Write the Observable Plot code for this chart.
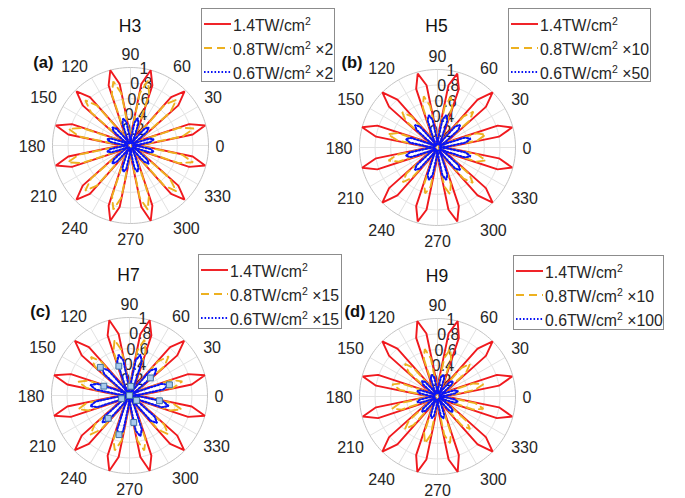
<!DOCTYPE html>
<html><head><meta charset="utf-8">
<script src="https://cdn.jsdelivr.net/npm/d3@7"></script>
<script src="https://cdn.jsdelivr.net/npm/@observablehq/plot@0.6"></script>
<style>
html,body{margin:0;padding:0;background:#fff;}
#wrap{position:relative;width:685px;height:498px;overflow:hidden;font-family:"Liberation Sans",Arial,Helvetica,sans-serif;color:#262626;}
.abs{position:absolute;}
.title{font-size:17.5px;line-height:1;transform:translate(-50%,-50%);white-space:nowrap;color:#111;}
.tag{font-size:16.5px;font-weight:bold;line-height:1;transform:translate(-100%,-50%);white-space:nowrap;color:#111;}
.legend{border:1px solid #8c8c8c;background:#fff;box-sizing:border-box;}
.row{position:absolute;left:0;height:24px;display:flex;align-items:center;font-size:15.8px;white-space:nowrap;color:#262626;}
.row svg{display:block;margin-left:2px;margin-right:2px;}
.sup{font-size:10.5px;position:relative;top:-6px;}
</style></head>
<body><div id="wrap"></div>
<script>
// ---------- data ----------
const sampleAngles = [0,5,10,15,20,25,30,35,40,45,50,55,60,65,70,75,80,85,90,95,100,105,110,115,
  120,125,130,135,140,145,150,155,160,165,170,175,180,185,190,195,200,205,210,215,220,225,230,235,
  240,245,250,255,260,265,270,275,280,285,290,295,300,305,310,315,320,325,330,335,340,345,350,355];
const thetaTicks = [0,30,60,90,120,150,180,210,240,270,300,330];
const rTicks = [0.2,0.4,0.6,0.8,1];
const rTickLabels = ["0.2","0.4","0.6","0.8","1"];
const panelTitles = ["H3","H5","H7","H9"];
const panelTags = ["(a)","(b)","(c)","(d)"];
const seriesNames = ["1.4TW/cm","0.8TW/cm","0.6TW/cm"];
const seriesFactors = [["","×2","×2"],["","×10","×50"],["","×15","×15"],["","×10","×100"]];

const h3Red = [
0.02,0.21,0.81,0.99,0.80,0.20, 0.02,0.20,0.80,0.98,0.81,0.21, 0.02,0.22,0.82,1.00,0.80,0.20,
0.02,0.20,0.80,1.00,0.82,0.22, 0.02,0.21,0.81,0.98,0.80,0.20, 0.02,0.20,0.80,0.99,0.81,0.21,
0.02,0.21,0.81,0.99,0.80,0.20, 0.02,0.20,0.80,0.98,0.81,0.21, 0.02,0.22,0.82,1.00,0.80,0.20,
0.02,0.20,0.80,1.00,0.82,0.22, 0.02,0.21,0.81,0.98,0.80,0.20, 0.02,0.20,0.80,0.99,0.81,0.21];
const h3Orange = [
0.02,0.17,0.68,0.84,0.67,0.16, 0.02,0.16,0.67,0.83,0.68,0.17, 0.02,0.18,0.70,0.86,0.68,0.17,
0.02,0.17,0.68,0.85,0.70,0.18, 0.02,0.17,0.67,0.82,0.66,0.16, 0.02,0.16,0.66,0.82,0.67,0.17,
0.02,0.17,0.67,0.83,0.66,0.16, 0.02,0.16,0.66,0.82,0.67,0.17, 0.02,0.18,0.69,0.85,0.68,0.17,
0.02,0.17,0.68,0.85,0.69,0.18, 0.02,0.17,0.67,0.83,0.66,0.16, 0.02,0.16,0.66,0.83,0.67,0.17];
const h3Blue = [
0.03,0.10,0.26,0.31,0.26,0.10, 0.03,0.10,0.28,0.33,0.28,0.10, 0.03,0.11,0.30,0.36,0.30,0.11,
0.03,0.11,0.30,0.36,0.30,0.11, 0.03,0.10,0.28,0.33,0.28,0.10, 0.03,0.10,0.26,0.31,0.26,0.10,
0.03,0.10,0.26,0.31,0.26,0.10, 0.03,0.10,0.28,0.33,0.27,0.10, 0.03,0.11,0.30,0.35,0.30,0.11,
0.03,0.11,0.29,0.35,0.30,0.11, 0.03,0.10,0.27,0.33,0.28,0.10, 0.03,0.10,0.26,0.31,0.26,0.10];

const h5Red = [
0.02,0.20,0.80,0.99,0.82,0.22, 0.02,0.21,0.81,1.00,0.80,0.20, 0.02,0.20,0.80,0.98,0.81,0.21,
0.02,0.21,0.81,0.98,0.80,0.20, 0.02,0.20,0.80,1.00,0.81,0.21, 0.02,0.22,0.82,1.00,0.80,0.20,
0.02,0.20,0.80,1.00,0.82,0.22, 0.02,0.21,0.81,1.00,0.80,0.20, 0.02,0.20,0.80,0.98,0.81,0.21,
0.02,0.21,0.81,0.98,0.80,0.20, 0.02,0.20,0.80,1.00,0.81,0.21, 0.02,0.22,0.82,0.99,0.80,0.20];
const h5Orange = [
0.02,0.14,0.52,0.64,0.53,0.15, 0.02,0.15,0.53,0.65,0.52,0.14, 0.02,0.15,0.55,0.67,0.54,0.15,
0.02,0.15,0.54,0.68,0.55,0.15, 0.02,0.14,0.52,0.64,0.53,0.15, 0.02,0.15,0.54,0.66,0.52,0.14,
0.02,0.14,0.52,0.65,0.53,0.15, 0.02,0.15,0.52,0.63,0.51,0.14, 0.02,0.14,0.50,0.61,0.51,0.14,
0.02,0.14,0.51,0.62,0.50,0.14, 0.02,0.14,0.52,0.64,0.53,0.15, 0.02,0.15,0.53,0.64,0.52,0.14];
const h5Blue = [
0.03,0.12,0.37,0.44,0.37,0.12, 0.03,0.12,0.35,0.41,0.35,0.12, 0.03,0.12,0.37,0.43,0.36,0.12,
0.03,0.12,0.36,0.43,0.37,0.12, 0.03,0.12,0.35,0.41,0.35,0.12, 0.03,0.12,0.36,0.42,0.36,0.12,
0.03,0.12,0.36,0.42,0.36,0.12, 0.03,0.12,0.35,0.41,0.35,0.12, 0.03,0.12,0.37,0.43,0.36,0.12,
0.03,0.12,0.36,0.43,0.37,0.12, 0.03,0.12,0.35,0.41,0.35,0.12, 0.03,0.12,0.37,0.44,0.37,0.12];

const h7Red = [
0.02,0.21,0.81,1.00,0.80,0.20, 0.02,0.20,0.80,0.99,0.81,0.21, 0.02,0.22,0.82,1.00,0.80,0.20,
0.02,0.20,0.80,1.00,0.82,0.22, 0.02,0.21,0.81,0.99,0.80,0.20, 0.02,0.20,0.80,1.00,0.81,0.21,
0.02,0.21,0.81,1.00,0.80,0.20, 0.02,0.20,0.80,0.99,0.81,0.21, 0.02,0.22,0.82,1.00,0.80,0.20,
0.02,0.20,0.80,1.00,0.82,0.22, 0.02,0.21,0.81,0.99,0.80,0.20, 0.02,0.20,0.80,1.00,0.81,0.21];
const h7Orange = [
0.02,0.15,0.57,0.70,0.58,0.16, 0.02,0.16,0.58,0.71,0.57,0.15, 0.02,0.16,0.60,0.74,0.59,0.16,
0.02,0.16,0.59,0.74,0.60,0.16, 0.02,0.15,0.57,0.70,0.58,0.16, 0.02,0.15,0.56,0.68,0.56,0.15,
0.02,0.15,0.56,0.68,0.56,0.15, 0.02,0.16,0.58,0.71,0.57,0.15, 0.02,0.16,0.60,0.73,0.59,0.16,
0.02,0.16,0.59,0.73,0.60,0.16, 0.02,0.15,0.57,0.70,0.58,0.16, 0.02,0.15,0.56,0.69,0.56,0.15];
const h7Blue = [
0.03,0.13,0.44,0.52,0.44,0.13, 0.03,0.12,0.42,0.49,0.42,0.12, 0.03,0.14,0.46,0.54,0.46,0.13,
0.03,0.13,0.46,0.54,0.46,0.14, 0.03,0.12,0.42,0.50,0.42,0.12, 0.03,0.13,0.44,0.52,0.44,0.13,
0.03,0.13,0.44,0.52,0.44,0.13, 0.03,0.12,0.42,0.49,0.42,0.12, 0.03,0.14,0.46,0.54,0.46,0.13,
0.03,0.13,0.46,0.54,0.46,0.14, 0.03,0.12,0.42,0.50,0.42,0.12, 0.03,0.13,0.44,0.52,0.44,0.13];
const h7MarkerTheta = [136,110,40,15,160,82,202,325,350,227,279,255,0];
const h7MarkerR =     [0.52,0.40,0.35,0.53,0.35,0.12,0.11,0.11,0.39,0.40,0.35,0.52,0];

const h9Red = [
0.02,0.20,0.80,0.99,0.81,0.21, 0.02,0.21,0.81,1.00,0.80,0.20, 0.02,0.20,0.80,1.00,0.82,0.22,
0.02,0.22,0.82,1.00,0.80,0.20, 0.02,0.20,0.80,1.00,0.81,0.21, 0.02,0.21,0.81,0.99,0.80,0.20,
0.02,0.20,0.80,0.99,0.81,0.21, 0.02,0.21,0.81,1.00,0.80,0.20, 0.02,0.20,0.80,1.00,0.82,0.22,
0.02,0.22,0.82,1.00,0.80,0.20, 0.02,0.20,0.80,1.00,0.81,0.21, 0.02,0.21,0.81,0.99,0.80,0.20];
const h9Orange = [
0.02,0.13,0.49,0.61,0.49,0.13, 0.02,0.13,0.48,0.59,0.48,0.13, 0.02,0.14,0.51,0.63,0.50,0.13,
0.02,0.13,0.50,0.63,0.51,0.14, 0.02,0.13,0.48,0.59,0.48,0.13, 0.02,0.13,0.49,0.60,0.49,0.13,
0.02,0.13,0.49,0.60,0.49,0.13, 0.02,0.13,0.48,0.59,0.48,0.13, 0.02,0.14,0.50,0.62,0.50,0.13,
0.02,0.13,0.50,0.62,0.50,0.14, 0.02,0.13,0.48,0.59,0.48,0.13, 0.02,0.13,0.49,0.61,0.49,0.13];
const h9Blue = [
0.03,0.10,0.23,0.27,0.23,0.10, 0.03,0.10,0.24,0.28,0.24,0.10, 0.03,0.11,0.25,0.29,0.25,0.11,
0.03,0.11,0.25,0.29,0.25,0.11, 0.03,0.10,0.24,0.28,0.24,0.10, 0.03,0.10,0.23,0.27,0.23,0.10,
0.03,0.10,0.23,0.27,0.23,0.10, 0.03,0.10,0.24,0.28,0.24,0.10, 0.03,0.11,0.25,0.29,0.25,0.11,
0.03,0.11,0.25,0.29,0.25,0.11, 0.03,0.10,0.24,0.28,0.24,0.10, 0.03,0.10,0.23,0.27,0.23,0.10];

const panelSeries = [
  [h3Red, h3Orange, h3Blue],
  [h5Red, h5Orange, h5Blue],
  [h7Red, h7Orange, h7Blue],
  [h9Red, h9Orange, h9Blue]
];

// ---------- layout & style ----------
const layout = [
  {cx:130, cy:145, titleY:27, tagRight:53.5, tagY:62, legend:{left:201, top:8, width:134, height:74}},
  {cx:436.5, cy:146.5, titleY:27, tagRight:362.5, tagY:62, legend:{left:508, top:8, width:143, height:74}},
  {cx:128.5, cy:395, titleY:276, tagRight:50.5, tagY:311, legend:{left:198, top:254, width:144, height:75}},
  {cx:437, cy:396, titleY:276.5, tagRight:365.5, tagY:311, legend:{left:513, top:255, width:151, height:75}}
];
const R = 78, S = 300, H = S / 2 / R;
const seriesStyle = [
  {stroke:"#f0191e", strokeWidth:1.9, dash:null},
  {stroke:"#edb120", strokeWidth:1.9, dash:"8,5"},
  {stroke:"#0a14f5", strokeWidth:2.1, dash:"1.6,1.9"}
];
const font = '"Liberation Sans", Arial, Helvetica, sans-serif';
const rad = Math.PI / 180;
const gridColor = "#e2e2e2", outerColor = "#c4c4c4", labelColor = "#262626";

function polarPoints(thetas, rs) {
  return thetas.map((t, i) => ({x: rs[i] * Math.cos(t * rad), y: rs[i] * Math.sin(t * rad)}));
}
function closedLoop(vals) {
  const pts = polarPoints(sampleAngles, vals);
  pts.push(pts[0]);
  return pts;
}

const wrap = document.getElementById("wrap");
const circleSteps = d3.range(0, 361, 2);

panelSeries.forEach((series, pi) => {
  const L = layout[pi];
  const innerCircles = rTicks.filter(r => r < 1).flatMap(r => circleSteps.map(a => ({r, x: r * Math.cos(a * rad), y: r * Math.sin(a * rad)})));
  const outerCircle = circleSteps.map(a => ({x: Math.cos(a * rad), y: Math.sin(a * rad)}));
  const spokes = thetaTicks.map(t => ({x2: Math.cos(t * rad), y2: Math.sin(t * rad)}));
  const marks = [
    Plot.line(innerCircles, {x: "x", y: "y", z: "r", stroke: gridColor, strokeWidth: 1}),
    Plot.link(spokes, {x1: () => 0, y1: () => 0, x2: "x2", y2: "y2", stroke: gridColor, strokeWidth: 1}),
    Plot.line(outerCircle, {x: "x", y: "y", stroke: outerColor, strokeWidth: 1}),
    Plot.text(rTicks.map((r, i) => ({r, label: rTickLabels[i]})), {
      x: d => d.r * Math.cos(80 * rad), y: d => d.r * Math.sin(80 * rad), text: "label",
      fontSize: 16, fontFamily: font, fill: labelColor, textAnchor: "middle", lineAnchor: "middle"
    })
  ];
  thetaTicks.forEach(t => {
    const c = Math.cos(t * rad), s = Math.sin(t * rad);
    const ta = c > 0.1 ? "start" : c < -0.1 ? "end" : "middle";
    const la = s > 0.1 ? "bottom" : s < -0.1 ? "top" : "middle";
    marks.push(Plot.text([t], {
      x: d => 1.09 * Math.cos(d * rad), y: d => 1.09 * Math.sin(d * rad), text: d => String(d),
      fontSize: 16, fontFamily: font, fill: labelColor, textAnchor: ta, lineAnchor: la,
      dy: la === "top" ? 3 : la === "middle" ? 1 : 0
    }));
  });
  series.forEach((vals, si) => {
    const st = seriesStyle[si];
    const o = {x: "x", y: "y", stroke: st.stroke, strokeWidth: st.strokeWidth, curve: "linear", strokeLinejoin: "miter"};
    if (st.dash) o.strokeDasharray = st.dash;
    marks.push(Plot.line(closedLoop(vals), o));
  });
  if (pi === 2) {
    marks.push(Plot.dot(polarPoints(h7MarkerTheta, h7MarkerR), {
      x: "x", y: "y", symbol: "square", r: 3.3, fill: "#a9cbee", stroke: "#41719f", strokeWidth: 1
    }));
  }
  const svg = Plot.plot({
    width: S, height: S, margin: 0,
    x: {domain: [-H, H], axis: null},
    y: {domain: [-H, H], axis: null},
    style: {background: "transparent", overflow: "visible"},
    marks
  });
  svg.style.position = "absolute";
  svg.style.left = (L.cx - S / 2) + "px";
  svg.style.top = (L.cy - S / 2) + "px";
  svg.style.maxWidth = "none";
  wrap.appendChild(svg);

  const title = document.createElement("div");
  title.className = "abs title";
  title.style.left = L.cx + "px";
  title.style.top = L.titleY + "px";
  title.textContent = panelTitles[pi];
  wrap.appendChild(title);

  const tag = document.createElement("div");
  tag.className = "abs tag";
  tag.style.left = L.tagRight + "px";
  tag.style.top = L.tagY + "px";
  tag.textContent = panelTags[pi];
  wrap.appendChild(tag);

  const lg = document.createElement("div");
  lg.className = "abs legend";
  Object.assign(lg.style, {left: L.legend.left + "px", top: L.legend.top + "px", width: L.legend.width + "px", height: L.legend.height + "px"});
  seriesNames.forEach((name, si) => {
    const st = seriesStyle[si];
    const row = document.createElement("div");
    row.className = "row";
    row.style.top = (4.5 + si * 24) + "px";
    const ns = "http://www.w3.org/2000/svg";
    const sv = document.createElementNS(ns, "svg");
    sv.setAttribute("width", 27); sv.setAttribute("height", 10);
    const ln = document.createElementNS(ns, "line");
    ln.setAttribute("x1", 0); ln.setAttribute("x2", 27); ln.setAttribute("y1", 3); ln.setAttribute("y2", 3);
    ln.setAttribute("stroke", st.stroke); ln.setAttribute("stroke-width", st.strokeWidth);
    if (st.dash) ln.setAttribute("stroke-dasharray", st.dash);
    sv.appendChild(ln);
    row.appendChild(sv);
    const tx = document.createElement("span");
    tx.innerHTML = name + '<span class="sup">2</span>' + (seriesFactors[pi][si] ? " " + seriesFactors[pi][si] : "");
    row.appendChild(tx);
    lg.appendChild(row);
  });
  wrap.appendChild(lg);
});
</script>
</body></html>
